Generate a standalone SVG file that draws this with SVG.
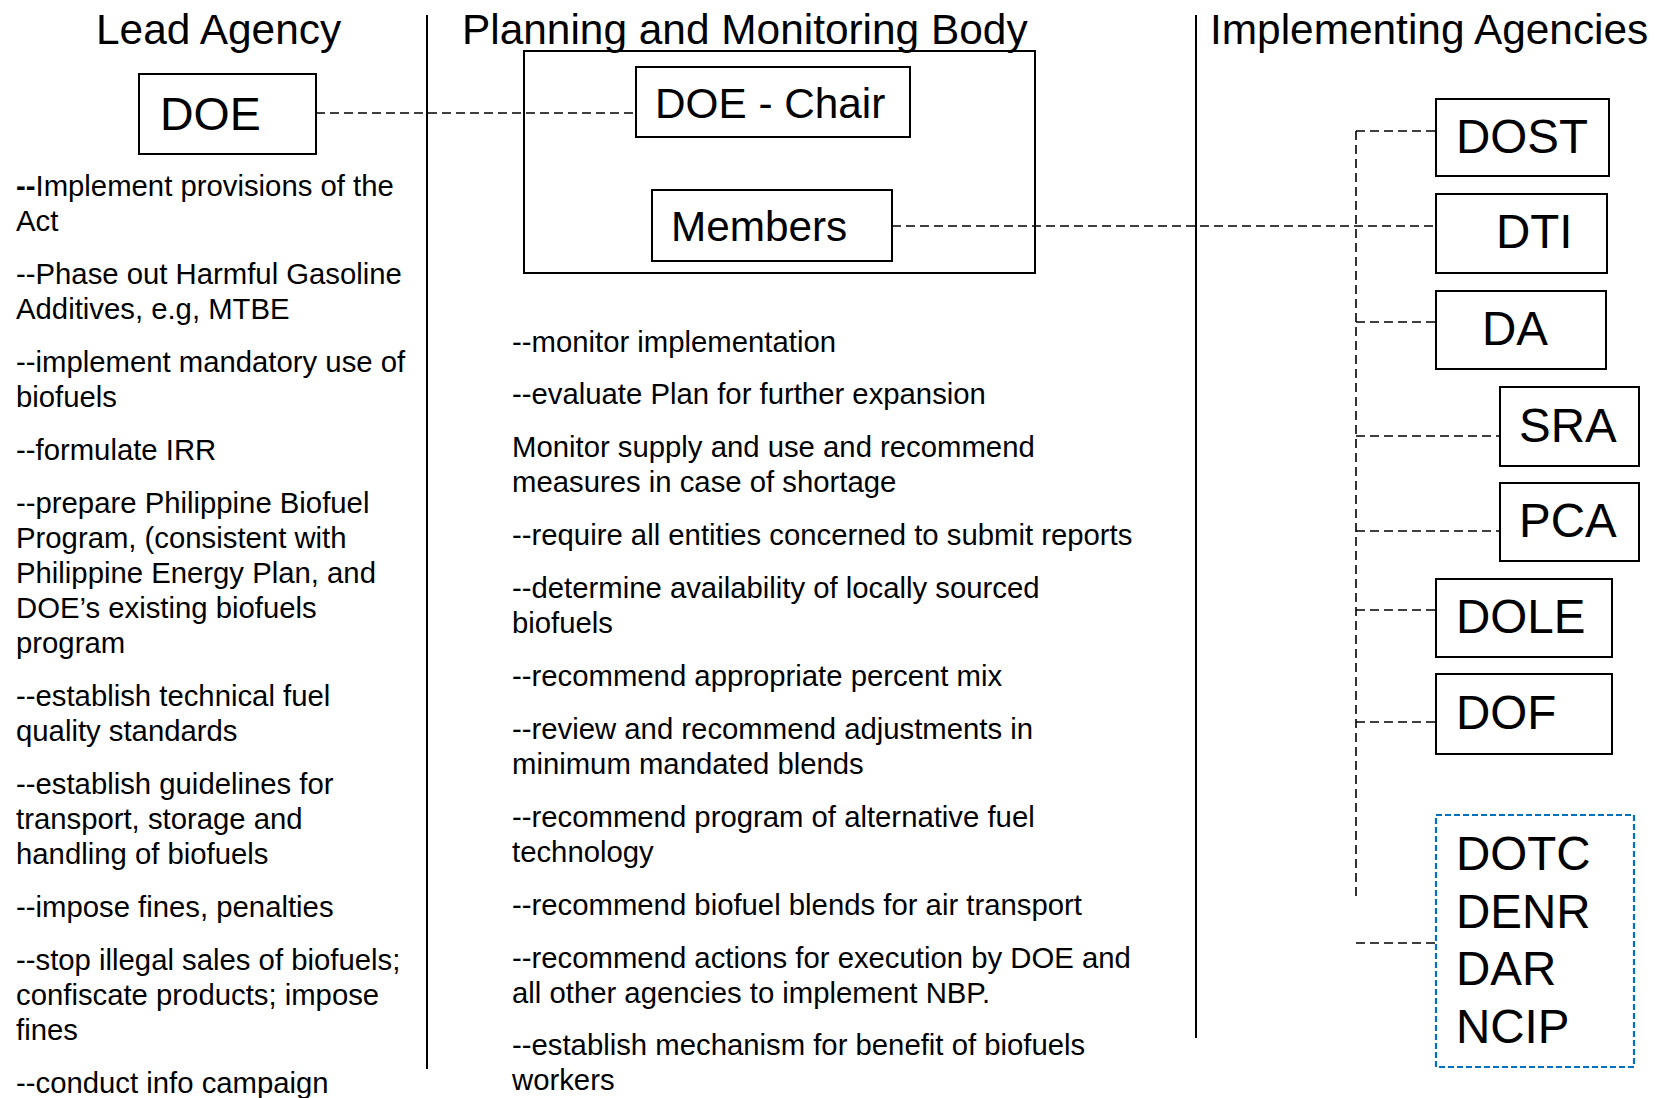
<svg xmlns="http://www.w3.org/2000/svg" width="1655" height="1098" viewBox="0 0 1655 1098">
<style>
text{font-family:"Liberation Sans",Arial,sans-serif;fill:#000}
.hdr{font-size:42.4px}
.box{fill:#fff;stroke:#000;stroke-width:2}
.lbl{font-size:47.5px}
.lbl0{font-size:46.5px}
.lbl2{font-size:42.3px}
.body{font-size:29.3px}
.div{stroke:#000;stroke-width:2}
.conn{stroke:#000;stroke-width:1.6;stroke-dasharray:9 5;fill:none}
.blue{fill:#fff;stroke:#0070C0;stroke-width:2.2;stroke-dasharray:6 3}
</style>
<rect width="1655" height="1098" fill="#fff"/>
<g id="headers">
<text class="hdr" x="96" y="44">Lead Agency</text>
<text class="hdr" x="462" y="44">Planning and Monitoring Body</text>
<text class="hdr" x="1210" y="44">Implementing Agencies</text>
<line class="div" x1="427" y1="15" x2="427" y2="1069"/>
<line class="div" x1="1196" y1="15" x2="1196" y2="1038"/>
</g>
<g id="connectors">
<line class="conn" x1="316" y1="113" x2="636" y2="113"/>
<line class="conn" x1="892" y1="226" x2="1436" y2="226"/>
<line class="conn" x1="1356" y1="131" x2="1356" y2="897"/>
<line class="conn" x1="1356" y1="131" x2="1436" y2="131"/>
<line class="conn" x1="1356" y1="322" x2="1436" y2="322"/>
<line class="conn" x1="1356" y1="436" x2="1500" y2="436"/>
<line class="conn" x1="1356" y1="531" x2="1500" y2="531"/>
<line class="conn" x1="1356" y1="610" x2="1436" y2="610"/>
<line class="conn" x1="1356" y1="722" x2="1436" y2="722"/>
<line class="conn" x1="1356" y1="943" x2="1436" y2="943"/>
</g>
<g id="doe">
<rect class="box" x="139" y="74" width="177" height="80"/>
<text class="lbl0" x="160" y="130">DOE</text>
</g>
<g id="pmb">
<rect fill="none" stroke="#000" stroke-width="2" x="524" y="51" width="511" height="222"/>
</g>
<g id="doe-chair">
<rect class="box" x="636" y="67" width="274" height="70"/>
<text class="lbl2" x="655" y="118">DOE - Chair</text>
</g>
<g id="members">
<rect class="box" x="652" y="190" width="240" height="71"/>
<text class="lbl2" x="671" y="241">Members</text>
</g>
<g id="dost">
<rect class="box" x="1436" y="99" width="173" height="77"/>
<text class="lbl" x="1456" y="153">DOST</text>
</g>
<g id="dti">
<rect class="box" x="1436" y="194" width="171" height="79"/>
<text class="lbl" x="1496" y="248">DTI</text>
</g>
<g id="da">
<rect class="box" x="1436" y="291" width="170" height="78"/>
<text class="lbl" x="1482" y="345">DA</text>
</g>
<g id="sra">
<rect class="box" x="1500" y="387" width="139" height="79"/>
<text class="lbl" x="1519" y="442">SRA</text>
</g>
<g id="pca">
<rect class="box" x="1500" y="483" width="139" height="78"/>
<text class="lbl" x="1519" y="537">PCA</text>
</g>
<g id="dole">
<rect class="box" x="1436" y="579" width="176" height="78"/>
<text class="lbl" x="1456" y="633">DOLE</text>
</g>
<g id="dof">
<rect class="box" x="1436" y="674" width="176" height="80"/>
<text class="lbl" x="1456" y="729">DOF</text>
</g>
<g id="others">
<rect class="blue" x="1436" y="815" width="198" height="252"/>
<text class="lbl" x="1456" y="870">DOTC</text>
<text class="lbl" x="1456" y="928">DENR</text>
<text class="lbl" x="1456" y="985">DAR</text>
<text class="lbl" x="1456" y="1043">NCIP</text>
</g>
<g id="lead-duties">
<text class="body" x="16" y="196"><tspan font-weight="bold">--</tspan>Implement provisions of the</text>
<text class="body" x="16" y="231">Act</text>
<text class="body" x="16" y="284">--Phase out Harmful Gasoline</text>
<text class="body" x="16" y="319">Additives, e.g, MTBE</text>
<text class="body" x="16" y="372">--implement mandatory use of</text>
<text class="body" x="16" y="407">biofuels</text>
<text class="body" x="16" y="460">--formulate IRR</text>
<text class="body" x="16" y="513">--prepare Philippine Biofuel</text>
<text class="body" x="16" y="548">Program, (consistent with</text>
<text class="body" x="16" y="583">Philippine Energy Plan, and</text>
<text class="body" x="16" y="618">DOE’s existing biofuels</text>
<text class="body" x="16" y="653">program</text>
<text class="body" x="16" y="706">--establish technical fuel</text>
<text class="body" x="16" y="741">quality standards</text>
<text class="body" x="16" y="794">--establish guidelines for</text>
<text class="body" x="16" y="829">transport, storage and</text>
<text class="body" x="16" y="864">handling of biofuels</text>
<text class="body" x="16" y="917">--impose fines, penalties</text>
<text class="body" x="16" y="970">--stop illegal sales of biofuels;</text>
<text class="body" x="16" y="1005">confiscate products; impose</text>
<text class="body" x="16" y="1040">fines</text>
<text class="body" x="16" y="1093">--conduct info campaign</text>
</g>
<g id="pmb-duties">
<text class="body" x="512" y="352">--monitor implementation</text>
<text class="body" x="512" y="404">--evaluate Plan for further expansion</text>
<text class="body" x="512" y="457">Monitor supply and use and recommend</text>
<text class="body" x="512" y="492">measures in case of shortage</text>
<text class="body" x="512" y="545">--require all entities concerned to submit reports</text>
<text class="body" x="512" y="598">--determine availability of locally sourced</text>
<text class="body" x="512" y="633">biofuels</text>
<text class="body" x="512" y="686">--recommend appropriate percent mix</text>
<text class="body" x="512" y="739">--review and recommend adjustments in</text>
<text class="body" x="512" y="774">minimum mandated blends</text>
<text class="body" x="512" y="827">--recommend program of alternative fuel</text>
<text class="body" x="512" y="862">technology</text>
<text class="body" x="512" y="915">--recommend biofuel blends for air transport</text>
<text class="body" x="512" y="968">--recommend actions for execution by DOE and</text>
<text class="body" x="512" y="1003">all other agencies to implement NBP.</text>
<text class="body" x="512" y="1055">--establish mechanism for benefit of biofuels</text>
<text class="body" x="512" y="1090">workers</text>
</g>
</svg>
